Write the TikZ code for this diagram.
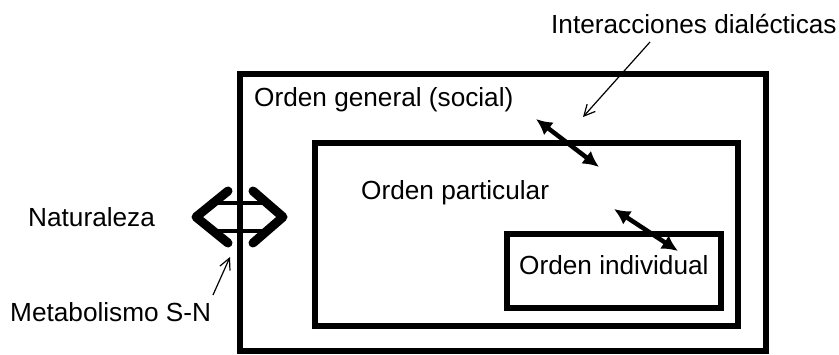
\documentclass[tikz,border=0pt]{standalone}
\usepackage{fontspec}
\setmainfont{Liberation Sans}
\usetikzlibrary{arrows.meta}
\begin{document}
\begin{tikzpicture}[x=1pt,y=-1pt,
  box/.style={draw,line width=6pt,inner sep=0pt,rectangle},
  lbl/.style={font=\fontsize{26.2}{30}\selectfont,anchor=base west,inner sep=0pt},
  dblarrow/.style={{Latex[length=16pt,width=16pt]}-{Latex[length=16pt,width=16pt]},line width=4.5pt},
  thinarrow/.style={-{Straight Barb[length=11pt,width=11pt]},line width=1.2pt},
  chev/.style={line width=9pt,line cap=round,line join=round},
  bar/.style={line width=4.5pt}]
\useasboundingbox (0,0) rectangle (839,354);
% boxes
\node[box,minimum width=526pt,minimum height=277pt] (general) at (503,212.5) {};
\node[box,minimum width=423pt,minimum height=183pt] (particular) at (526.5,234.5) {};
\node[box,minimum width=214pt,minimum height=74pt] (individual) at (614,271) {};
% labels
\node[lbl] (tinter) at (551,33) {Interacciones dialécticas};
\node[lbl] (tgeneral) at (254,106) {Orden general (social)};
\node[lbl] (tparticular) at (361,199) {Orden particular};
\node[lbl] (tindividual) at (519,274) {Orden individual};
\node[lbl] (tnat) at (28,226) {Naturaleza};
\node[lbl] (tmeta) at (10,321) {Metabolismo S-N};
% hollow double arrow (metabolismo)
\draw[chev] (228,191) -- (196,217) -- (228,243);
\draw[chev] (253,191) -- (283,217) -- (253,243);
\draw[bar] (212,203) -- (271,203);
\draw[bar] (212,231) -- (271,231);
% dialectical interaction arrows
\coordinate (a1) at (536,119);
\coordinate (a2) at (599,167);
\coordinate (b1) at (614,209);
\coordinate (b2) at (678,251);
\draw[dblarrow] (a1) -- (a2);
\draw[dblarrow] (b1) -- (b2);
% thin pointer arrows
\coordinate (p1) at (650,42);
\coordinate (p2) at (583,117);
\coordinate (m1) at (213,295);
\coordinate (m2) at (230,257);
\draw[thinarrow] (p1) -- (p2);
\draw[thinarrow] (m1) -- (m2);
\end{tikzpicture}
\end{document}
